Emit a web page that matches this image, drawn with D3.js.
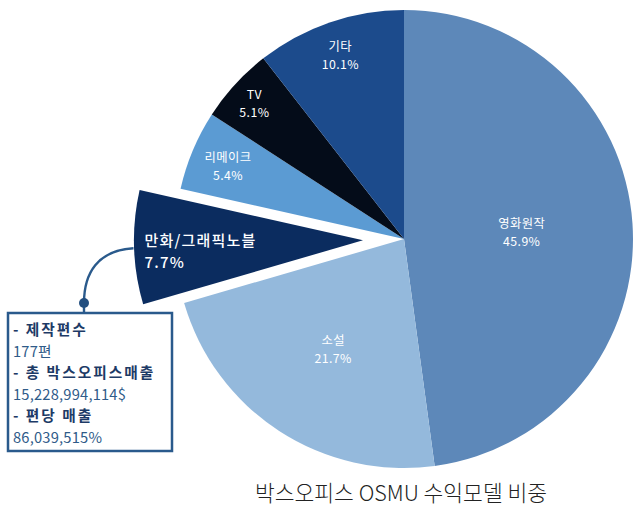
<!DOCTYPE html>
<meta charset="utf-8">
<script src="https://d3js.org/d3.v7.min.js"></script>
<style>
  body { margin: 0; background: #fff; }
  svg { font-family: "Noto Sans CJK KR", "Noto Sans", sans-serif; }
</style>
<svg id="chart" width="640" height="510"></svg>
<script>
// data
const categories = ["영화원작", "소설", "만화/그래픽노블", "리메이크", "TV", "기타"];
const shares = [45.9, 21.7, 7.7, 5.4, 5.1, 10.1];
const colors = ["#5d88b9", "#94b9dc", "#0b2c5f", "#5b9bd3", "#040c19", "#1c4b8c"];
const highlighted = "만화/그래픽노블";
const calloutLines = [
  { text: "- 제작편수", bold: true },
  { text: "177편", bold: false },
  { text: "- 총 박스오피스매출", bold: true },
  { text: "15,228,994,114$", bold: false },
  { text: "- 편당 매출", bold: true },
  { text: "86,039,515%", bold: false }
];
const title = "박스오피스 OSMU 수익모델 비중";

// layout
const cx = 404, cy = 239, R = 229, explode = 41;
const labelRadius = { "영화원작": 118, "소설": 130, "리메이크": 191, "TV": 203, "기타": 196 };

const svg = d3.select("#chart");
const g = svg.append("g").attr("transform", `translate(${cx},${cy})`);

const pie = d3.pie().sort(null).value(d => d.value);
const arcs = pie(categories.map((c, i) => ({ name: c, value: shares[i], color: colors[i] })));
const arc = d3.arc().innerRadius(0).outerRadius(R);

function offset(d, r) {
  const a = (d.startAngle + d.endAngle) / 2;
  return [r * Math.sin(a), -r * Math.cos(a)];
}

// slices
g.selectAll("path.slice")
  .data(arcs)
  .enter()
  .append("path")
    .attr("class", "slice")
    .attr("d", arc)
    .attr("fill", d => d.data.color)
    .attr("transform", d => {
      if (d.data.name !== highlighted) return null;
      const [dx, dy] = offset(d, explode);
      return `translate(${dx},${dy})`;
    });

// labels
const labels = g.selectAll("text.lbl")
  .data(arcs.filter(d => d.data.name !== highlighted))
  .enter()
  .append("text")
    .attr("class", "lbl")
    .attr("text-anchor", "middle")
    .attr("fill", "#fff")
    .style("font-size", "12.3px")
    .style("letter-spacing", "0.4px")
    .attr("transform", d => {
      const [x, y] = offset(d, labelRadius[d.data.name]);
      return `translate(${x},${y})`;
    });
labels.append("tspan").attr("x", 0).attr("y", -3).text(d => d.data.name);
labels.append("tspan").attr("x", 0).attr("y", 15).text(d => d.data.value + "%");

// highlighted slice label
const hl = arcs.find(d => d.data.name === highlighted);
const [hx, hy] = offset(hl, explode);
const outerLeft = hx - R + 0.5; // left edge of exploded slice
const hlText = g.append("text")
  .attr("fill", "#fff")
  .style("font-size", "15px")
  .style("font-weight", "500")
  .style("letter-spacing", "1.2px");
hlText.append("tspan").attr("x", outerLeft + 10).attr("y", hy + 6).text(highlighted);
hlText.append("tspan").attr("x", outerLeft + 10).attr("y", hy + 28).text(hl.data.value + "%");

// callout
const boxX = 8, boxY = 313, boxW = 164, boxH = 138;
const dotX = 84, dotY = 303;
const startX = cx + outerLeft - 1, startY = cy + hy + 8;
svg.append("path")
  .attr("d", `M${startX},${startY} C${startX - 36},${startY + 2} ${dotX},${startY + 25} ${dotX},${dotY}`)
  .attr("fill", "none")
  .attr("stroke", "#2a5a8c")
  .attr("stroke-width", 2.4);
svg.append("line")
  .attr("x1", dotX).attr("y1", dotY).attr("x2", dotX).attr("y2", boxY)
  .attr("stroke", "#2a5a8c").attr("stroke-width", 2.4);
svg.append("circle")
  .attr("cx", dotX).attr("cy", dotY).attr("r", 5)
  .attr("fill", "#234f80");
svg.append("rect")
  .attr("x", boxX).attr("y", boxY).attr("width", boxW).attr("height", boxH)
  .attr("fill", "#fff")
  .attr("stroke", "#2a5a8c")
  .attr("stroke-width", 2.5);

svg.append("g")
  .selectAll("text")
  .data(calloutLines)
  .enter()
  .append("text")
    .attr("x", boxX + 5)
    .attr("y", (d, i) => boxY + 22 + i * 21.6)
    .attr("fill", d => d.bold ? "#1d3a66" : "#2f5b89")
    .style("font-size", "14.7px")
    .style("font-weight", d => d.bold ? "700" : "400")
    .style("letter-spacing", d => d.bold ? "2px" : "0.2px")
    .text(d => d.text);

// title
svg.append("text")
  .attr("x", 401)
  .attr("y", 501)
  .attr("text-anchor", "middle")
  .attr("fill", "#222")
  .style("font-size", "21.5px")
  .style("font-weight", "300")
  .text(title);
</script>
